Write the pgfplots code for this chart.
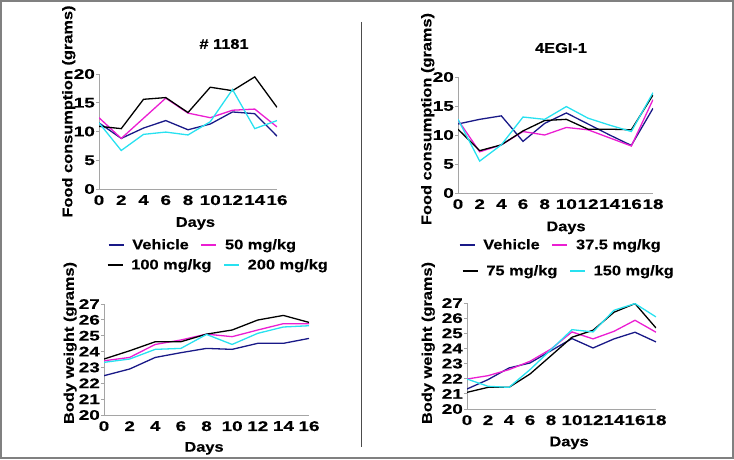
\documentclass[border=0pt]{standalone}
\usepackage{fontspec}
\setmainfont{Liberation Sans}[FakeStretch=1.17, BoldFeatures={FakeBold=0.3}]
\newfontfamily\tickfam{Liberation Sans}[FakeStretch=1.35, BoldFeatures={FakeBold=0.3}]
\usepackage{pgfplots}
\pgfplotsset{compat=1.18}
\definecolor{cNavy}{RGB}{25,25,135}
\definecolor{cMag}{RGB}{235,30,210}
\definecolor{cCyan}{RGB}{40,225,240}
\definecolor{cAx}{RGB}{165,165,165}
\newcommand{\bigb}{\fontsize{14}{14}\selectfont\bfseries}
\newcommand{\tickb}{\tickfam\fontsize{14}{14}\selectfont\bfseries}
\pgfplotsset{
  panel/.style={
    scale only axis,
    axis lines=left,
    axis line style={-, cAx, line width=0.8pt},
    enlargelimits=false,
    /pgf/number format/assume math mode=true,
    tick label style={font=\tickb},
    label style={font=\bigb},
    xtick style={draw=none},
    ytick style={cAx, line width=0.8pt},
    tick align=outside,
    major tick length=3pt,
    xticklabel style={inner sep=1pt, yshift=-2pt},
    yticklabel style={inner xsep=1pt},
    every axis plot/.append style={line width=1.3pt, mark=none},
    ylabel style={anchor=center},
    xlabel style={anchor=center},
    legend columns=2,
    legend image code/.code={\draw[##1, line width=1.3pt] (0pt,0pt) -- (15pt,0pt);},
    legend style={draw=none, fill=none, inner sep=0pt, outer sep=0pt,
      font=\bigb, anchor=west, column sep=0pt,
      nodes={inner xsep=8pt, inner ysep=0pt},
      /tikz/every even column/.append style={column sep=4pt}},
  }
}
\begin{document}
\begin{tikzpicture}[x=1pt,y=1pt]
% ---------- top-left: #1181 food consumption
\begin{axis}[panel, at={(99pt,270pt)}, anchor=south west, width=178pt, height=115pt,
  xmin=0, xmax=16, ymin=0, ymax=20,
  xtick={0,2,...,16}, ytick={0,5,...,20},
  xlabel={Days}, ylabel={Food consumption (grams)},
  xlabel style={at={(axis description cs:0.542,-0.30)}},
  ylabel style={at={(axis description cs:-0.17,0.674)}},
  legend style={at={(axis description cs:0.0506,-0.487)}}]
\addplot[cNavy] coordinates {(0,11.5)(2,8.8)(4,10.6)(6,11.9)(8,10.3)(10,11.3)(12,13.4)(14,13.1)(16,9.2)};
\addlegendentry{Vehicle}
\addplot[cMag] coordinates {(0,12.4)(2,8.8)(4,12.3)(6,15.8)(8,13.2)(10,12.4)(12,13.7)(14,13.9)(16,10.8)};
\addlegendentry{50 mg/kg}
\addplot[black, forget plot] coordinates {(0,10.9)(2,10.5)(4,15.6)(6,15.9)(8,13.3)(10,17.7)(12,17.1)(14,19.5)(16,14.2)};
\addplot[cCyan, forget plot] coordinates {(0,11.5)(2,6.7)(4,9.5)(6,9.9)(8,9.4)(10,11.7)(12,17.3)(14,10.5)(16,11.9)};
\end{axis}

% ---------- bottom-left: #1181 body weight
\begin{axis}[panel, at={(104pt,44pt)}, anchor=south west, width=205pt, height=111pt,
  xmin=0, xmax=16, ymin=20, ymax=27,
  xtick={0,2,...,16}, ytick={20,21,...,27},
  xlabel={Days}, ylabel={Body weight (grams)},
  xlabel style={at={(axis description cs:0.488,-0.30)}},
  ylabel style={at={(axis description cs:-0.165,0.649)}},
  legend style={at={(axis description cs:0.0146,1.351)}}]
\addlegendimage{black}
\addlegendentry{100 mg/kg}
\addlegendimage{cCyan}
\addlegendentry{200 mg/kg}
\addplot[cNavy, forget plot] coordinates {(0,22.48)(2,22.9)(4,23.63)(6,23.93)(8,24.2)(10,24.14)(12,24.52)(14,24.52)(16,24.83)};
\addplot[cMag, forget plot] coordinates {(0,23.42)(2,23.63)(4,24.45)(6,24.73)(8,25.1)(10,24.94)(12,25.36)(14,25.76)(16,25.76)};
\addplot[black, forget plot] coordinates {(0,23.53)(2,24.05)(4,24.62)(6,24.62)(8,25.1)(10,25.36)(12,25.99)(14,26.28)(16,25.84)};
\addplot[cCyan, forget plot] coordinates {(0,23.32)(2,23.53)(4,24.14)(6,24.2)(8,25.08)(10,24.45)(12,25.15)(14,25.55)(16,25.63)};
\end{axis}

% ---------- top-right: 4EGI-1 food consumption
\begin{axis}[panel, at={(458pt,266pt)}, anchor=south west, width=195pt, height=116pt,
  xmin=0, xmax=18, ymin=0, ymax=20,
  xtick={0,2,...,18}, ytick={0,5,...,20},
  xlabel={Days}, ylabel={Food consumption (grams)},
  xlabel style={at={(axis description cs:0.554,-0.30)}},
  ylabel style={at={(axis description cs:-0.155,0.638)}},
  legend style={at={(axis description cs:0.005,-0.448)}}]
\addplot[cNavy] coordinates {(0,11.9)(2,12.7)(4,13.3)(6,8.9)(8,12.0)(10,13.8)(12,11.9)(14,10.0)(16,8.2)(18,14.6)};
\addlegendentry{Vehicle}
\addplot[cMag] coordinates {(0,12.6)(2,7.1)(4,8.3)(6,10.6)(8,10.0)(10,11.3)(12,10.9)(14,9.5)(16,8.1)(18,16.1)};
\addlegendentry{37.5 mg/kg}
\addplot[black, forget plot] coordinates {(0,11.0)(2,7.3)(4,8.3)(6,10.7)(8,12.5)(10,12.7)(12,11.0)(14,11.0)(16,10.9)(18,16.9)};
\addplot[cCyan, forget plot] coordinates {(0,12.7)(2,5.5)(4,8.3)(6,13.1)(8,12.7)(10,14.9)(12,12.9)(14,11.7)(16,10.6)(18,17.3)};
\end{axis}

% ---------- bottom-right: 4EGI-1 body weight
\begin{axis}[panel, at={(467pt,50pt)}, anchor=south west, width=189pt, height=106pt,
  xmin=0, xmax=18, ymin=20, ymax=27,
  xtick={0,2,...,18}, ytick={20,21,...,27},
  xlabel={Days}, ylabel={Body weight (grams)},
  xlabel style={at={(axis description cs:0.54,-0.32)}},
  ylabel style={at={(axis description cs:-0.205,0.623)}},
  legend style={at={(axis description cs:-0.026,1.302)}}]
\addlegendimage{black}
\addlegendentry{75 mg/kg}
\addlegendimage{cCyan}
\addlegendentry{150 mg/kg}
\addplot[cNavy, forget plot] coordinates {(0,21.32)(2,21.94)(4,22.71)(6,23.04)(8,23.85)(10,24.65)(12,24.03)(14,24.63)(16,25.07)(18,24.43)};
\addplot[cMag, forget plot] coordinates {(0,21.98)(2,22.2)(4,22.6)(6,23.15)(8,23.96)(10,25.09)(12,24.63)(14,25.13)(16,25.86)(18,25.07)};
\addplot[black, forget plot] coordinates {(0,21.1)(2,21.43)(4,21.43)(6,22.31)(8,23.52)(10,24.74)(12,25.2)(14,26.39)(16,26.96)(18,25.35)};
\addplot[cCyan, forget plot] coordinates {(0,21.98)(2,21.5)(4,21.43)(6,22.6)(8,23.92)(10,25.24)(12,25.09)(14,26.52)(16,26.96)(18,26.08)};
\end{axis}

\draw[gray, line width=1.6pt] (1,1) rectangle (733,458);
\draw[black!70, line width=0.7pt] (361,437) -- (361,12);
\node[font=\bigb] at (224,415) {\# 1181};
\node[font=\bigb] at (561,411) {4EGI-1};
\pgfresetboundingbox
\useasboundingbox (0,0) rectangle (734,459);
\end{tikzpicture}
\end{document}
